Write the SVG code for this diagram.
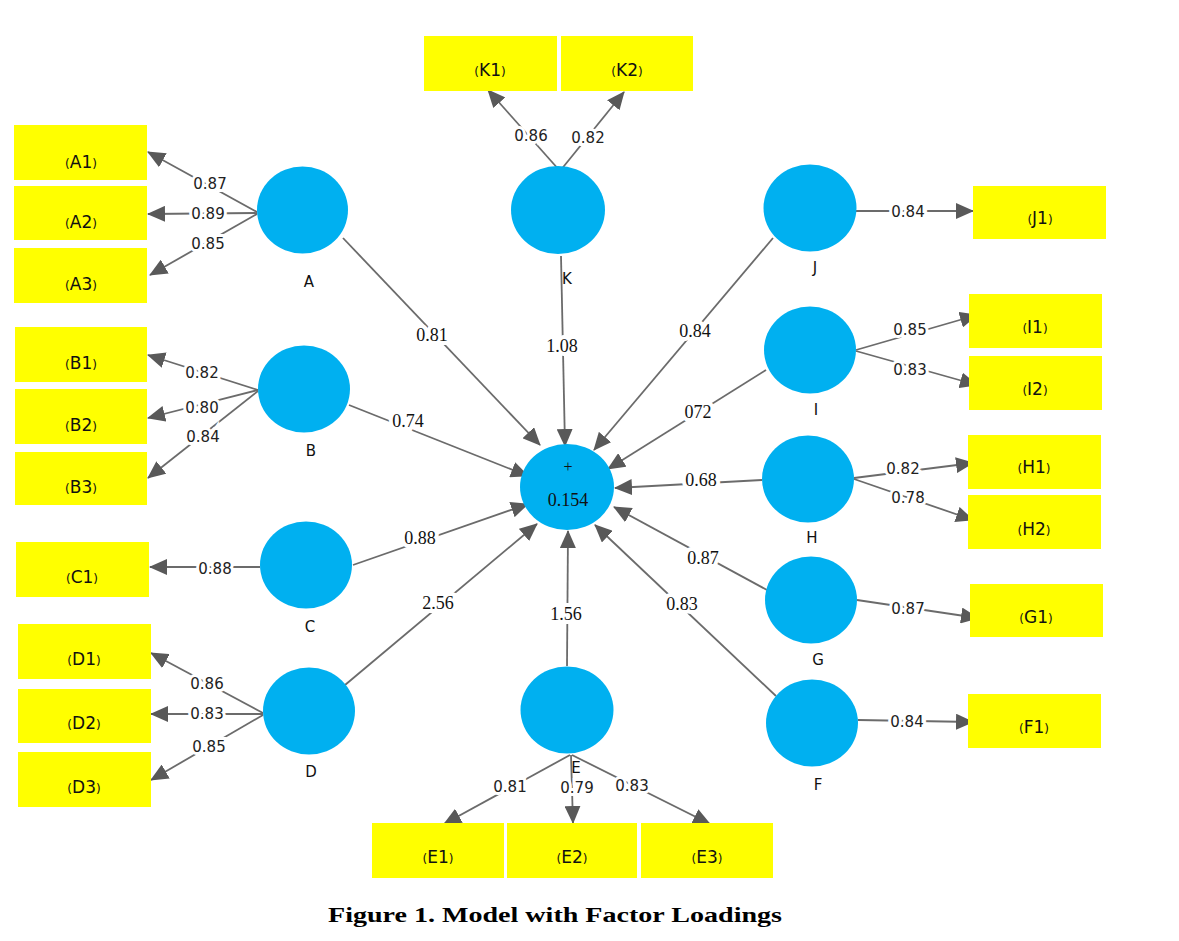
<svg xmlns="http://www.w3.org/2000/svg" width="1179" height="941" viewBox="0 0 1179 941">
<style>
.box{fill:#FFFF00}
.lv{fill:#00B0F0}
.bl{font-family:"DejaVu Sans","Liberation Sans",sans-serif;font-size:17px;fill:#111;text-anchor:middle}
.bl .p{font-size:12px}
.nl{font-family:"DejaVu Sans","Liberation Sans",sans-serif;font-size:15px;fill:#111;text-anchor:middle}
.ld{font-family:"DejaVu Sans","Liberation Sans",sans-serif;font-size:15px;fill:#222;text-anchor:middle;stroke:#fff;stroke-width:6px;paint-order:stroke}
.ls{font-family:"Liberation Serif","Times New Roman",serif;font-size:18px;fill:#111;text-anchor:middle;stroke:#fff;stroke-width:8px;paint-order:stroke}
.c{stroke:#6b6b6b;stroke-width:1.8;fill:none;marker-end:url(#ah)}
.cap{font-family:"Liberation Serif","Times New Roman",serif;font-size:22px;font-weight:bold;fill:#000;text-anchor:middle}
</style>
<defs>
<marker id="ah" viewBox="0 0 18 16" refX="17" refY="8" markerWidth="18" markerHeight="16" markerUnits="userSpaceOnUse" orient="auto">
<path d="M0,0 L18,8 L0,16 z" fill="#595959"/>
</marker>
</defs>
<rect width="1179" height="941" fill="#fff"/>

<g id="connectors">
<line class="c" x1="257" y1="212" x2="148" y2="152"/>
<line class="c" x1="257" y1="213" x2="148" y2="214"/>
<line class="c" x1="257" y1="214" x2="150" y2="275"/>
<line class="c" x1="258" y1="390" x2="148" y2="355"/>
<line class="c" x1="258" y1="390" x2="148" y2="418"/>
<line class="c" x1="258" y1="391" x2="148" y2="478"/>
<line class="c" x1="260" y1="567" x2="150" y2="567"/>
<line class="c" x1="263" y1="713" x2="151" y2="653"/>
<line class="c" x1="263" y1="714" x2="151" y2="714"/>
<line class="c" x1="263" y1="715" x2="151" y2="780"/>
<line class="c" x1="570" y1="755" x2="444" y2="824"/>
<line class="c" x1="571" y1="755" x2="573" y2="823"/>
<line class="c" x1="572" y1="755" x2="710" y2="824"/>
<line class="c" x1="560" y1="171" x2="488" y2="90"/>
<line class="c" x1="560" y1="171" x2="624" y2="92"/>
<line class="c" x1="856" y1="211" x2="973" y2="211"/>
<line class="c" x1="856" y1="350" x2="977" y2="315"/>
<line class="c" x1="856" y1="351" x2="977" y2="385"/>
<line class="c" x1="854" y1="478" x2="973" y2="463"/>
<line class="c" x1="854" y1="479" x2="973" y2="520"/>
<line class="c" x1="857" y1="600" x2="978" y2="618"/>
<line class="c" x1="858" y1="720" x2="973" y2="722"/>
<line class="c" x1="343" y1="238" x2="540" y2="445"/>
<line class="c" x1="561" y1="256" x2="565" y2="446"/>
<line class="c" x1="773" y1="238" x2="594" y2="450"/>
<line class="c" x1="766" y1="370" x2="608" y2="469"/>
<line class="c" x1="762" y1="480" x2="615" y2="488"/>
<line class="c" x1="767" y1="590" x2="614" y2="507"/>
<line class="c" x1="776" y1="696" x2="595" y2="525"/>
<line class="c" x1="567" y1="666" x2="568" y2="531"/>
<line class="c" x1="345" y1="685" x2="537" y2="524"/>
<line class="c" x1="353" y1="565" x2="528" y2="504"/>
<line class="c" x1="349" y1="405" x2="528" y2="476"/>

<text class="ld" x="210" y="189">0.87</text>
<text class="ld" x="208" y="219">0.89</text>
<text class="ld" x="208" y="249">0.85</text>
<text class="ld" x="202" y="378">0.82</text>
<text class="ld" x="202" y="413">0.80</text>
<text class="ld" x="203" y="442">0.84</text>
<text class="ld" x="215" y="574">0.88</text>
<text class="ld" x="207" y="689">0.86</text>
<text class="ld" x="207" y="719">0.83</text>
<text class="ld" x="209" y="752">0.85</text>
<text class="ld" x="510" y="792">0.81</text>
<text class="ld" x="577" y="793">0.79</text>
<text class="ld" x="632" y="791">0.83</text>
<text class="ld" x="531" y="141">0.86</text>
<text class="ld" x="588" y="143">0.82</text>
<text class="ld" x="908" y="217">0.84</text>
<text class="ld" x="910" y="335">0.85</text>
<text class="ld" x="910" y="375">0.83</text>
<text class="ld" x="903" y="474">0.82</text>
<text class="ld" x="908" y="503">0.78</text>
<text class="ld" x="908" y="614">0.87</text>
<text class="ld" x="907" y="727">0.84</text>

<text class="ls" x="432" y="341">0.81</text>
<text class="ls" x="562" y="352">1.08</text>
<text class="ls" x="695" y="337">0.84</text>
<text class="ls" x="698" y="418">072</text>
<text class="ls" x="701" y="486">0.68</text>
<text class="ls" x="703" y="564">0.87</text>
<text class="ls" x="682" y="610">0.83</text>
<text class="ls" x="566" y="620">1.56</text>
<text class="ls" x="438" y="609">2.56</text>
<text class="ls" x="420" y="544">0.88</text>
<text class="ls" x="408" y="427">0.74</text>
</g>

<g id="A1"><rect class="box" x="14" y="125" width="133" height="55"/><text class="bl" x="81" y="168"><tspan class="p">(</tspan>A1<tspan class="p">)</tspan></text></g>
<g id="A2"><rect class="box" x="14" y="186" width="133" height="54"/><text class="bl" x="81" y="228"><tspan class="p">(</tspan>A2<tspan class="p">)</tspan></text></g>
<g id="A3"><rect class="box" x="14" y="248" width="133" height="55"/><text class="bl" x="81" y="290"><tspan class="p">(</tspan>A3<tspan class="p">)</tspan></text></g>
<g id="B1"><rect class="box" x="15" y="327" width="132" height="55"/><text class="bl" x="81" y="369"><tspan class="p">(</tspan>B1<tspan class="p">)</tspan></text></g>
<g id="B2"><rect class="box" x="15" y="389" width="132" height="55"/><text class="bl" x="81" y="431"><tspan class="p">(</tspan>B2<tspan class="p">)</tspan></text></g>
<g id="B3"><rect class="box" x="15" y="452" width="132" height="53"/><text class="bl" x="81" y="493"><tspan class="p">(</tspan>B3<tspan class="p">)</tspan></text></g>
<g id="C1"><rect class="box" x="16" y="542" width="133" height="55"/><text class="bl" x="82" y="583"><tspan class="p">(</tspan>C1<tspan class="p">)</tspan></text></g>
<g id="D1"><rect class="box" x="18" y="624" width="133" height="55"/><text class="bl" x="84" y="665"><tspan class="p">(</tspan>D1<tspan class="p">)</tspan></text></g>
<g id="D2"><rect class="box" x="18" y="689" width="133" height="54"/><text class="bl" x="84" y="729"><tspan class="p">(</tspan>D2<tspan class="p">)</tspan></text></g>
<g id="D3"><rect class="box" x="18" y="752" width="133" height="55"/><text class="bl" x="84" y="793"><tspan class="p">(</tspan>D3<tspan class="p">)</tspan></text></g>
<g id="E1"><rect class="box" x="372" y="823" width="132" height="55"/><text class="bl" x="438" y="863"><tspan class="p">(</tspan>E1<tspan class="p">)</tspan></text></g>
<g id="E2"><rect class="box" x="507" y="823" width="130" height="55"/><text class="bl" x="572" y="863"><tspan class="p">(</tspan>E2<tspan class="p">)</tspan></text></g>
<g id="E3"><rect class="box" x="641" y="823" width="132" height="55"/><text class="bl" x="707" y="863"><tspan class="p">(</tspan>E3<tspan class="p">)</tspan></text></g>
<g id="K1"><rect class="box" x="424" y="36" width="133" height="55"/><text class="bl" x="490" y="76"><tspan class="p">(</tspan>K1<tspan class="p">)</tspan></text></g>
<g id="K2"><rect class="box" x="561" y="36" width="132" height="55"/><text class="bl" x="627" y="76"><tspan class="p">(</tspan>K2<tspan class="p">)</tspan></text></g>
<g id="J1"><rect class="box" x="973" y="186" width="133" height="53"/><text class="bl" x="1040" y="224"><tspan class="p">(</tspan>J1<tspan class="p">)</tspan></text></g>
<g id="I1"><rect class="box" x="969" y="294" width="133" height="54"/><text class="bl" x="1035" y="333"><tspan class="p">(</tspan>I1<tspan class="p">)</tspan></text></g>
<g id="I2"><rect class="box" x="969" y="356" width="133" height="54"/><text class="bl" x="1035" y="395"><tspan class="p">(</tspan>I2<tspan class="p">)</tspan></text></g>
<g id="H1"><rect class="box" x="968" y="435" width="133" height="54"/><text class="bl" x="1034" y="473"><tspan class="p">(</tspan>H1<tspan class="p">)</tspan></text></g>
<g id="H2"><rect class="box" x="968" y="495" width="133" height="54"/><text class="bl" x="1034" y="535"><tspan class="p">(</tspan>H2<tspan class="p">)</tspan></text></g>
<g id="G1"><rect class="box" x="970" y="584" width="133" height="53"/><text class="bl" x="1036" y="623"><tspan class="p">(</tspan>G1<tspan class="p">)</tspan></text></g>
<g id="F1"><rect class="box" x="968" y="694" width="133" height="54"/><text class="bl" x="1034" y="733"><tspan class="p">(</tspan>F1<tspan class="p">)</tspan></text></g>

<g id="A"><ellipse class="lv" cx="302.5" cy="210" rx="45.5" ry="43.5"/><text class="nl" x="309" y="287">A</text></g>
<g id="B"><ellipse class="lv" cx="304" cy="389" rx="46" ry="43.5"/><text class="nl" x="311" y="456">B</text></g>
<g id="C"><ellipse class="lv" cx="306" cy="565" rx="46" ry="43.5"/><text class="nl" x="310" y="632">C</text></g>
<g id="D"><ellipse class="lv" cx="309" cy="711" rx="46" ry="43.5"/><text class="nl" x="311" y="777">D</text></g>
<g id="E"><ellipse class="lv" cx="567" cy="710" rx="46.5" ry="43.5"/><text class="nl" x="576" y="773">E</text></g>
<g id="K"><ellipse class="lv" cx="558" cy="210" rx="47" ry="44"/><text class="nl" x="567" y="284">K</text></g>
<g id="J"><ellipse class="lv" cx="810" cy="208" rx="46.5" ry="43.5"/><text class="nl" x="815" y="273">J</text></g>
<g id="I"><ellipse class="lv" cx="810" cy="350" rx="46" ry="43.5"/><text class="nl" x="816" y="415">I</text></g>
<g id="H"><ellipse class="lv" cx="808" cy="479" rx="46" ry="43.5"/><text class="nl" x="812" y="543">H</text></g>
<g id="G"><ellipse class="lv" cx="811" cy="600" rx="46" ry="43.5"/><text class="nl" x="818" y="665">G</text></g>
<g id="F"><ellipse class="lv" cx="812" cy="723" rx="46" ry="43.5"/><text class="nl" x="818" y="790">F</text></g>
<g id="Y"><ellipse class="lv" cx="567" cy="487" rx="47" ry="43"/>
<text x="568" y="472" font-family="Liberation Serif,serif" font-size="16" text-anchor="middle" fill="#111">+</text>
<text x="568" y="506" font-family="Liberation Serif,serif" font-size="18" text-anchor="middle" fill="#111">0.154</text></g>

<text class="cap" x="555" y="922" textLength="454" lengthAdjust="spacingAndGlyphs">Figure 1. Model with Factor Loadings</text>
</svg>
